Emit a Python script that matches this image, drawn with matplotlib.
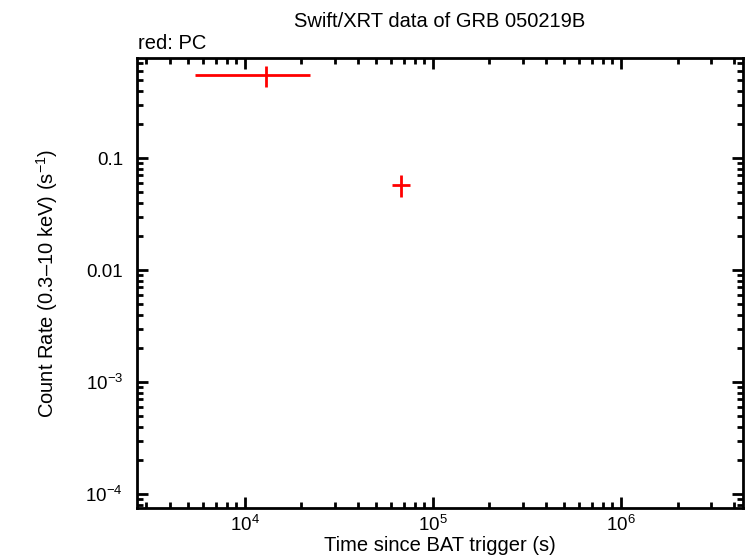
import math
import matplotlib
matplotlib.use('Agg')
from matplotlib import pyplot as plt
from matplotlib.ticker import FuncFormatter, LogLocator, NullFormatter

plt.rcParams['font.family'] = ['Liberation Sans', 'DejaVu Sans']
plt.rcParams['mathtext.fontset'] = 'custom'
plt.rcParams['mathtext.rm'] = 'Liberation Sans'
plt.rcParams['mathtext.it'] = 'Liberation Sans'
plt.rcParams['mathtext.default'] = 'regular'

# PC mode points
t = [13040, 67800]
t_lo = [5420, 60500]
t_hi = [22350, 76000]
rate = [0.551, 0.0574]
rate_lo = [0.434, 0.0451]
rate_hi = [0.662, 0.0705]

xerr = [[a - b for a, b in zip(t, t_lo)], [b - a for a, b in zip(t, t_hi)]]
yerr = [[a - b for a, b in zip(rate, rate_lo)], [b - a for a, b in zip(rate, rate_hi)]]

fig = plt.figure(figsize=(7.46, 5.58), dpi=100)
ax = fig.add_axes([0.1836, 0.0896, 0.8124, 0.8064])

ax.errorbar(t, rate, xerr=xerr, yerr=yerr, fmt='none', ecolor='red', elinewidth=2, capsize=0)

ax.set_xscale('log')
ax.set_yscale('log')
ax.set_xlim(2670, 4.46e6)
ax.set_ylim(7.5e-5, 0.782)

def yfmt(v, pos):
    if abs(v - 0.1) < 1e-9:
        return '0.1'
    if abs(v - 0.01) < 1e-10:
        return '0.01'
    return r'$10^{%d}$' % round(math.log10(v))

def xfmt(v, pos):
    return r'$10^{%d}$' % round(math.log10(v))

ax.xaxis.set_major_locator(LogLocator(base=10))
ax.yaxis.set_major_locator(LogLocator(base=10))
ax.xaxis.set_minor_locator(LogLocator(base=10, subs=range(2, 10)))
ax.yaxis.set_minor_locator(LogLocator(base=10, subs=range(2, 10)))
ax.xaxis.set_major_formatter(FuncFormatter(xfmt))
ax.yaxis.set_major_formatter(FuncFormatter(yfmt))
ax.xaxis.set_minor_formatter(NullFormatter())
ax.yaxis.set_minor_formatter(NullFormatter())

ax.tick_params(which='both', direction='in', top=True, right=True, width=2, labelsize=13.5)
ax.tick_params(which='major', length=8)
ax.tick_params(which='minor', length=4)
ax.tick_params(axis='y', which='major', pad=10)
ax.tick_params(axis='x', which='major', pad=5)
for s in ax.spines.values():
    s.set_linewidth(2)

ax.set_xlabel('Time since BAT trigger (s)', fontsize=14.5, labelpad=1)
ax.set_ylabel('Count Rate (0.3\u201310 keV) (s$^{\u22121}$)', fontsize=14.5, labelpad=18)
ax.set_title('Swift/XRT data of GRB 050219B', fontsize=14.5, pad=22)
fig.text(0.185, 0.913, 'red: PC', fontsize=14.5)

plt.savefig('out.png', dpi=100)
